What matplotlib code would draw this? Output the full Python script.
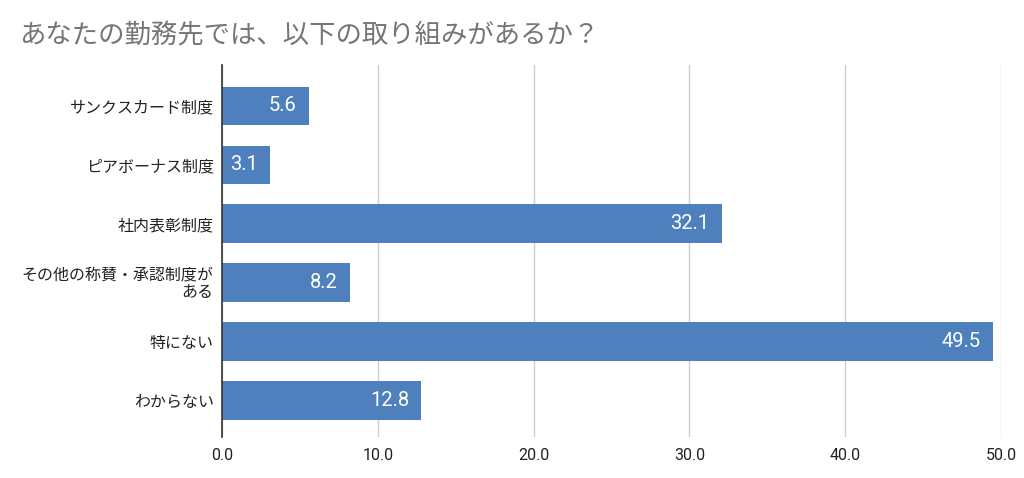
import matplotlib
matplotlib.use('Agg')
import matplotlib.pyplot as plt

plt.rcParams['font.family'] = ['Noto Sans CJK JP', 'DejaVu Sans']

# Survey answers and shares (%)
categories = ['サンクスカード制度', 'ピアボーナス制度', '社内表彰制度',
              'その他の称賛・承認制度が\nある', '特にない', 'わからない']
values = [5.6, 3.1, 32.1, 8.2, 49.5, 12.8]
xticks = [0, 10, 20, 30, 40, 50]
title = 'あなたの勤務先では、以下の取り組みがあるか？'

bar_color = '#4e80bd'

fig = plt.figure(figsize=(10.24, 4.78), dpi=100)
ax = fig.add_axes([0.2168, 0.0858, 0.7607, 0.778])

y = list(range(len(categories)))
ax.barh(y, values, height=0.65, color=bar_color, zorder=3)

for yi, v in zip(y, values):
    ax.text(v - 0.8, yi, f'{v:.1f}', ha='right', va='center', color='white',
            fontsize=14.5, family=['Roboto', 'DejaVu Sans'], zorder=4)

ax.set_ylim(5.62, -0.69)
ax.set_xlim(0, 50)
ax.set_yticks(y)
ax.set_yticklabels(categories, fontsize=11.5, color='#222222', linespacing=0.95)
ax.set_xticks(xticks)
ax.set_xticklabels([f'{t:.1f}' for t in xticks], fontsize=11.5, color='#222222',
                   family=['Roboto', 'DejaVu Sans'])
ax.tick_params(axis='both', length=0)
ax.tick_params(axis='x', pad=8)
ax.tick_params(axis='y', pad=6)

ax.grid(axis='x', color='#cccccc', linewidth=1, zorder=0)
for side in ['top', 'right', 'bottom']:
    ax.spines[side].set_visible(False)
ax.spines['left'].set_color('#333333')
ax.spines['left'].set_linewidth(1.2)
ax.spines['left'].set_zorder(5)

fig.text(0.019, 0.925, title, fontsize=19, color='#757575', va='center', ha='left')

fig.savefig('out.png', dpi=100)
